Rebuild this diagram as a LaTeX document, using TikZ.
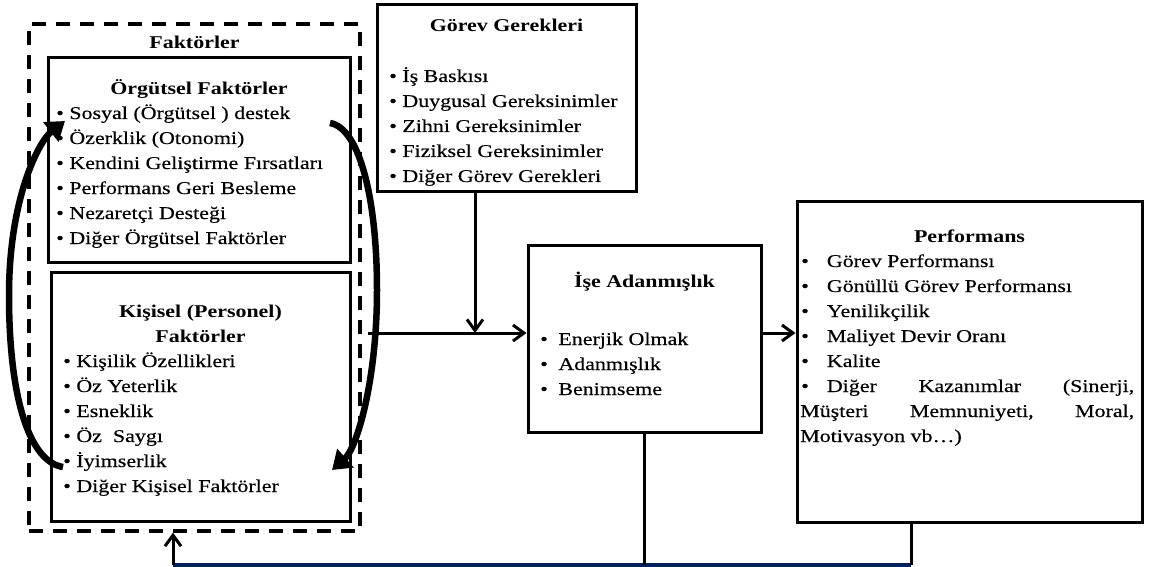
\documentclass[tikz,border=0pt]{standalone}
\usepackage{fontspec}
\setmainfont{Liberation Serif}[FakeStretch=1.22, UprightFeatures={FakeBold=0.35}]
\usetikzlibrary{arrows.meta}
\definecolor{navy}{RGB}{0,32,96}

\begin{document}
\begin{tikzpicture}[x=1pt,y=-1pt,
  box/.style={draw, line width=3pt, inner sep=0pt},
  frame/.style={draw, line width=3.2pt, dash pattern=on 14pt off 10pt, inner sep=0pt},
  txt/.style={anchor=base west, inner sep=0pt, font=\fontsize{18}{25}\selectfont},
  ttl/.style={anchor=base, inner sep=0pt, font=\fontsize{18}{25}\selectfont\bfseries},
  link/.style={line width=3pt},
  arr/.style={link, -{Straight Barb[length=11pt,width=16pt]}},
  loop/.style={line width=6.5pt, -{Triangle[length=18pt,width=24pt]}},
  fb/.style={line width=3.2pt, draw=navy}
]
\useasboundingbox (0,0) rectangle (1152,567);

% frames and boxes
\node[frame, minimum width=331pt, minimum height=507pt] (dash) at (194.5,277.5) {};
\node[box, minimum width=302pt, minimum height=204pt] (org) at (199,160) {};
\node[box, minimum width=299pt, minimum height=249pt] (kis) at (200.5,396.5) {};
\node[box, minimum width=259pt, minimum height=187pt] (gor) at (506.5,98.5) {};
\node[box, minimum width=233pt, minimum height=187pt] (ise) at (644.5,338.5) {};
\node[box, minimum width=345pt, minimum height=320pt] (perf) at (969.5,362) {};

% Faktörler group
\node[ttl] (fakt) at (194.5,49) {Faktörler};
\node[ttl] (orgT) at (199,95) {Örgütsel Faktörler};
\foreach \t [count=\i from 0] in {{Sosyal (Örgütsel ) destek},{Özerklik (Otonomi)},{Kendini Geliştirme Fırsatları},{Performans Geri Besleme},{Nezaretçi Desteği},{Diğer Örgütsel Faktörler}}
  \node[txt] (org\i) at (56,{119+25*\i}) {\textbullet\ \t};

\node[ttl] (kisT1) at (200.5,317) {Kişisel (Personel)};
\node[ttl] (kisT2) at (200.5,342) {Faktörler};
\foreach \t [count=\i from 0] in {{Kişilik Özellikleri},{Öz Yeterlik},{Esneklik},{Öz\ \ Saygı},{İyimserlik},{Diğer Kişisel Faktörler}}
  \node[txt] (kis\i) at (63,{367+25*\i}) {\textbullet\ \t};

% Görev Gerekleri
\node[ttl] (gorT) at (506.5,32) {Görev Gerekleri};
\foreach \t [count=\i from 0] in {{İş Baskısı},{Duygusal Gereksinimler},{Zihni Gereksinimler},{Fiziksel Gereksinimler},{Diğer Görev Gerekleri}}
  \node[txt] (gor\i) at (389,{82+25*\i}) {\textbullet\ \t};

% İşe Adanmışlık
\node[ttl] (iseT) at (644.5,287) {İşe Adanmışlık};
\foreach \t [count=\i from 0] in {{Enerjik Olmak},{Adanmışlık},{Benimseme}}
  \node[txt] (ise\i) at (540,{345+25*\i}) {\textbullet\hspace{10.5pt}\t};

% Performans
\node[ttl] (perfT) at (969.5,242) {Performans};
\foreach \t [count=\i from 0] in {{Görev Performansı},{Gönüllü Görev Performansı},{Yenilikçilik},{Maliyet Devir Oranı},{Kalite}}
  \node[txt] (perf\i) at (801,{267+25*\i}) {\textbullet\hspace{18pt}\t};
\node[txt] (perf5) at (801,392) {\hbox to 333pt{\textbullet\hspace{18pt}Diğer\hfill Kazanımlar\hfill (Sinerji,}};
\node[txt] (perf6) at (800,417) {\hbox to 334pt{Müşteri\hfill Memnuniyeti,\hfill Moral,}};
\node[txt] (perf7) at (800,442) {Motivasyon vb…)};

% flow into and out of İşe Adanmışlık
\coordinate (join) at (475,333);
\coordinate (hstart) at (368,333);
\draw[arr] (gor.south -| join) -- (join);
\draw[arr] (hstart) -- (ise.west |- join);
\draw[arr] (ise.east |- join) -- (perf.west |- join);

% feedback loop back to the factors
\coordinate (fbR) at (911,565);
\coordinate (fbM) at (ise.south |- fbR);
\coordinate (fbL) at (173,565);
\draw[fb] (fbR) -- (fbL);
\draw[link] (perf.south -| fbR) -- (fbR);
\draw[link] (ise.south) -- (fbM);
\draw[arr] (fbL) -- (fbL |- dash.south);

% mutual influence between the two factor groups
\coordinate (lA) at (63,467);
\coordinate (lB) at (9,295);
\coordinate (lC) at (65,121);
\coordinate (rA) at (330,123);
\coordinate (rB) at (377,290);
\coordinate (rC) at (332,470);
\draw[loop] (lA) .. controls (30,462) and (9,400) .. (lB) .. controls (9,200) and (38,142) .. (lC);
\draw[loop] (rA) .. controls (360,128) and (377,200) .. (rB) .. controls (377,380) and (357,448) .. (rC);
\end{tikzpicture}
\end{document}
